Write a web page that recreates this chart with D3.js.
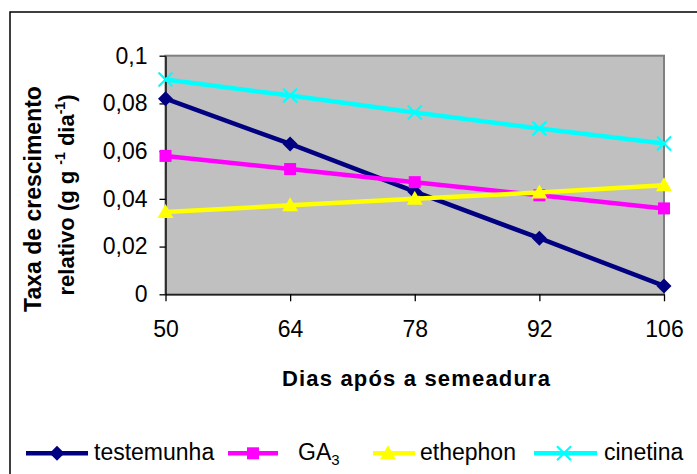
<!DOCTYPE html>
<html><head><meta charset="utf-8">
<script src="https://cdn.jsdelivr.net/npm/d3@7"></script>
<style>body{margin:0;background:#fff}svg{display:block;font-family:"Liberation Sans",Arial,sans-serif}</style>
</head><body>
<script>
const days = [50, 64, 78, 92, 106];
const testemunha = [0.082, 0.063, 0.043, 0.0235, 0.0035];
const ga3 = [0.058, 0.0525, 0.047, 0.0415, 0.036];
const ethephon = [0.0345, 0.0373, 0.04, 0.0427, 0.0457];
const cinetina = [0.09, 0.0833, 0.0762, 0.0695, 0.0632];
const yTicks = [0, 0.02, 0.04, 0.06, 0.08, 0.1];
const yTickLabels = ["0", "0,02", "0,04", "0,06", "0,08", "0,1"];
const seriesNames = ["testemunha", "GA3", "ethephon", "cinetina"];
const seriesColors = ["#000080", "#FF00FF", "#FFFF00", "#00FFFF"];
const seriesMarkers = ["diamond", "square", "triangle", "x"];

const W = 697, H = 474;
const svg = d3.select("body").append("svg").attr("width", W).attr("height", H);

// outer border
svg.append("rect").attr("x", 10).attr("y", 12).attr("width", W + 20).attr("height", H + 20)
  .attr("fill", "#fff").attr("stroke", "#000").attr("stroke-width", 1.5);

const L = 165.5, R = 664, T = 55.7, B = 294.3;
const x = d3.scalePoint().domain(days).range([L, R]).padding(0);
const y = d3.scaleLinear().domain([0, 0.1]).range([B, T]);

// plot area
svg.append("rect").attr("x", L).attr("y", T).attr("width", R - L).attr("height", B - T)
  .attr("fill", "#C0C0C0").attr("stroke", "#808080").attr("stroke-width", 2);

// axes
const yAxis = d3.axisLeft(y).tickValues(yTicks).tickFormat((d, i) => yTickLabels[i])
  .tickSize(6).tickSizeOuter(0).tickPadding(12);
const gy = svg.append("g").attr("transform", `translate(${L},0)`).call(yAxis);
gy.selectAll("text").attr("font-size", 23).attr("fill", "#000").style("font-family", '"Liberation Sans",Arial,sans-serif');
gy.selectAll("line,path").attr("stroke", "#000").attr("stroke-width", 1.3);

const xAxis = d3.axisBottom(x).tickSize(7).tickSizeOuter(0).tickPadding(19);
const gx = svg.append("g").attr("transform", `translate(0,${B})`).call(xAxis);
gx.selectAll("text").attr("font-size", 23).attr("fill", "#000").style("font-family", '"Liberation Sans",Arial,sans-serif');
gx.selectAll("line,path").attr("stroke", "#000").attr("stroke-width", 1.3);

// marker shapes
function marker(g, type, cx, cy, color) {
  if (type === "diamond") {
    g.append("path").attr("d", `M${cx},${cy-7.5}L${cx+7.5},${cy}L${cx},${cy+7.5}L${cx-7.5},${cy}Z`)
      .attr("fill", color);
  } else if (type === "square") {
    g.append("rect").attr("x", cx - 6).attr("y", cy - 6).attr("width", 12).attr("height", 12).attr("fill", color);
  } else if (type === "triangle") {
    g.append("path").attr("d", `M${cx},${cy-8}L${cx+8},${cy+6}L${cx-8},${cy+6}Z`).attr("fill", color);
  } else {
    g.append("path").attr("d", `M${cx-7},${cy-7}L${cx+7},${cy+7}M${cx-7},${cy+7}L${cx+7},${cy-7}`)
      .attr("stroke", color).attr("stroke-width", 2.2).attr("fill", "none");
  }
}

const allSeries = [testemunha, ga3, ethephon, cinetina];
const line = d3.line().x((d, i) => x(days[i])).y(d => y(d));
allSeries.forEach((vals, si) => {
  const g = svg.append("g");
  g.append("path").attr("d", line(vals)).attr("fill", "none")
    .attr("stroke", seriesColors[si]).attr("stroke-width", 4.5).attr("stroke-linejoin", "round");
  vals.forEach((v, i) => marker(g, seriesMarkers[si], x(days[i]), y(v), seriesColors[si]));
});

// x title
svg.append("text").attr("x", 416).attr("y", 386).attr("text-anchor", "middle")
  .attr("font-size", 22).attr("font-weight", "bold").attr("textLength", 268)
  .text("Dias após a semeadura");

// y title
svg.append("text").attr("transform", "translate(41,199) rotate(-90)")
  .attr("text-anchor", "middle").attr("font-size", 23).attr("font-weight", "bold")
  .text("Taxa de crescimento");
const t2 = svg.append("text").attr("transform", "translate(73.5,195) rotate(-90)")
  .attr("text-anchor", "middle").attr("font-size", 22).attr("font-weight", "bold");
t2.append("tspan").text("relativo (g g ");
t2.append("tspan").attr("font-size", 14).attr("dy", -9).text("-1");
t2.append("tspan").attr("dy", 9).text(" dia");
t2.append("tspan").attr("font-size", 14).attr("dy", -9).text("-1");
t2.append("tspan").attr("dy", 9).text(")");

// legend
const legendItems = [
  {line: [26, 88], m: 57, tx: 94},
  {line: [228, 278], m: 253, tx: 298},
  {line: [373, 415], m: 388, tx: 420},
  {line: [534, 597], m: 564, tx: 604}
];
const ly = 453.3;
legendItems.forEach((it, si) => {
  const g = svg.append("g");
  g.append("line").attr("x1", it.line[0]).attr("x2", it.line[1]).attr("y1", ly).attr("y2", ly)
    .attr("stroke", seriesColors[si]).attr("stroke-width", 4.5);
  marker(g, seriesMarkers[si], it.m, ly, seriesColors[si]);
  const t = g.append("text").attr("x", it.tx).attr("y", 460).attr("font-size", 23);
  if (seriesNames[si] === "GA3") {
    t.append("tspan").text("GA");
    t.append("tspan").attr("font-size", 15).attr("dy", 5).text("3");
  } else {
    t.text(seriesNames[si]);
  }
});
</script>
</body></html>
